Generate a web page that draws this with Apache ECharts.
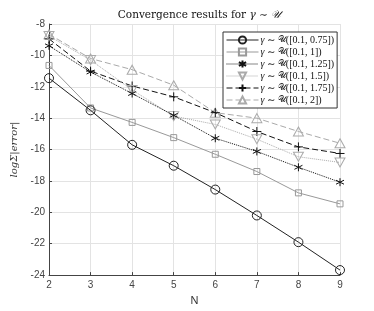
<!DOCTYPE html>
<html><head><meta charset="utf-8">
<script src="https://cdn.jsdelivr.net/npm/echarts@6/dist/echarts.min.js"></script>
<style>html,body{margin:0;padding:0;background:#fff}#c{width:374px;height:311px}</style>
</head><body><div id="c"></div>
<script>
var categories = [2, 3, 4, 5, 6, 7, 8, 9];
var yTicks = [-24, -22, -20, -18, -16, -14, -12, -10, -8];
var seriesNames = ['[0.1, 0.75]', '[0.1, 1]', '[0.1, 1.25]', '[0.1, 1.5]', '[0.1, 1.75]', '[0.1, 2]'];
var s075 = [-11.45, -13.5, -15.7, -17.03, -18.55, -20.2, -21.9, -23.68];
var s100 = [-10.64, -13.35, -14.27, -15.24, -16.3, -17.4, -18.76, -19.46];
var s125 = [-9.39, -11.06, -12.43, -13.82, -15.28, -16.12, -17.13, -18.08];
var s150 = [-8.76, -10.3, -12.2, -13.87, -14.4, -15.34, -16.46, -16.82];
var s175 = [-8.95, -11.0, -11.95, -12.64, -13.65, -14.85, -15.83, -16.25];
var s200 = [-8.65, -10.2, -10.91, -11.9, -13.65, -14.0, -14.85, -15.6];

var chart = echarts.init(document.getElementById('c'), null, {renderer: 'canvas'});
var asterisk = 'path://M0,-10 L0,10 M-8.66,-5 L8.66,5 M-8.66,5 L8.66,-5';
var plus = 'path://M0,-10 L0,10 M-10,0 L10,0';
var downTri = 'path://M0,0 L20,0 L10,17.3 Z';
var upTri = 'path://M10,0 L20,17.3 L0,17.3 Z';
var styles = [
  {data: s075, color: '#222', type: 'solid', symbol: 'circle', size: 9},
  {data: s100, color: '#999', type: 'solid', symbol: 'rect', size: 6},
  {data: s125, color: '#111', type: 'dotted', symbol: asterisk, size: 8},
  {data: s150, color: '#aaa', type: 'dotted', symbol: downTri, size: [10, 9]},
  {data: s175, color: '#111', type: [6, 3], symbol: plus, size: 9},
  {data: s200, color: '#aaa', type: [6, 3], symbol: upTri, size: [10, 9]}
];
function pairs(arr) { return categories.map(function (c, i) { return [c, arr[i]]; }); }
var series = styles.map(function (s, i) {
  return {
    name: seriesNames[i],
    type: 'line',
    data: pairs(s.data),
    symbol: s.symbol,
    symbolSize: s.size,
    showSymbol: true,
    lineStyle: {color: s.color, width: 1, type: s.type},
    itemStyle: {color: 'rgba(255,255,255,0)', borderColor: s.color, borderWidth: 1},
    emphasis: {disabled: true},
    animation: false,
    z: 10 - i
  };
});
var labelFont = {fontFamily: 'Liberation Sans, Arial, sans-serif', fontSize: 10, color: '#444'};
var serif = 'DejaVu Serif, Liberation Serif, serif';
var lserif = 'Liberation Serif, DejaVu Serif, serif';
chart.setOption({
  animation: false,
  backgroundColor: '#fff',
  title: {
    text: '{n|Convergence results for }{g|γ}{n| ∼ }{u|𝒰}',
    left: 194, top: 5, textAlign: 'center',
    textStyle: {
      fontWeight: 'normal',
      rich: {
        n: {fontFamily: serif, fontSize: 10.5, fontWeight: 'normal', color: '#111'},
        g: {fontFamily: serif, fontSize: 10.5, fontWeight: 'normal', fontStyle: 'italic', color: '#111'},
        u: {fontFamily: serif, fontSize: 10.5, fontWeight: 'normal', fontStyle: 'italic', color: '#111'}
      }
    }
  },
  legend: {
    orient: 'vertical',
    left: 223, top: 32,
    padding: [3, 3, 3, 3],
    itemGap: 2,
    itemWidth: 32, itemHeight: 9,
    backgroundColor: '#fff',
    borderColor: '#333', borderWidth: 1,
    lineStyle: {width: 1},
    data: seriesNames,
    formatter: function (n) { return '{g|γ}{v| ∼ }{u|𝒰}{v|(' + n + ')}'; },
    textStyle: {
      padding: [0, 0, 0, -3],
      rich: {
        g: {fontFamily: lserif, fontSize: 10, color: '#111', fontStyle: 'italic'},
        u: {fontFamily: lserif, fontSize: 8.5, color: '#111', fontStyle: 'normal'},
        v: {fontFamily: lserif, fontSize: 10, color: '#111', fontStyle: 'normal'}
      }
    }
  },
  grid: {left: 49, top: 24, right: 34, bottom: 34, containLabel: false},
  xAxis: {
    type: 'value', min: 2, max: 9, interval: 1,
    name: 'N', nameLocation: 'middle', nameGap: 18,
    nameTextStyle: {fontFamily: 'Liberation Sans, Arial, sans-serif', fontSize: 11, color: '#333'},
    axisLine: {lineStyle: {color: '#444', width: 1}},
    axisTick: {inside: true, length: 3, lineStyle: {color: '#444'}},
    axisLabel: Object.assign({margin: 5}, labelFont),
    splitLine: {show: true, lineStyle: {color: '#e3e3e3', width: 1}}
  },
  yAxis: {
    type: 'value', min: -24, max: -8, interval: 2,
    name: 'logΣ|error|', nameLocation: 'middle', nameGap: 23, nameRotate: 90,
    nameTextStyle: {fontFamily: serif, fontSize: 10, fontStyle: 'italic', color: '#333'},
    axisLine: {show: true, lineStyle: {color: '#444', width: 1}},
    axisTick: {show: true, inside: true, length: 3, lineStyle: {color: '#444'}},
    axisLabel: Object.assign({margin: 4, formatter: function (v) { return yTicks.indexOf(v) >= 0 ? String(v) : ''; }}, labelFont),
    splitLine: {show: true, lineStyle: {color: '#e3e3e3', width: 1}}
  },
  series: series
});
</script></body></html>
